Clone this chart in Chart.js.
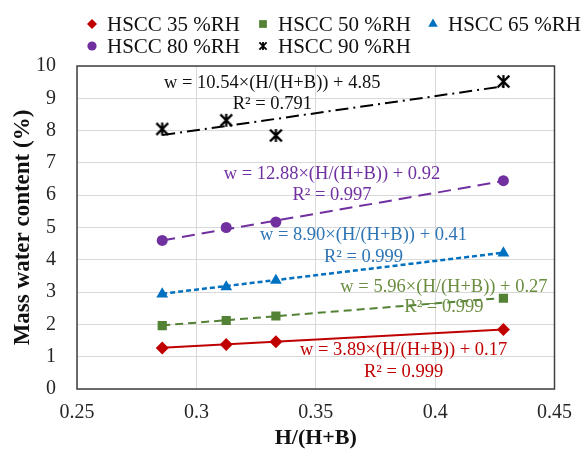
<!DOCTYPE html>
<html>
<head>
<meta charset="utf-8">
<script src="https://cdn.jsdelivr.net/npm/chart.js@4.4.0/dist/chart.umd.min.js"></script>
<style>
  html, body { margin: 0; padding: 0; background: #fff; }
</style>
</head>
<body>
<canvas id="chart" width="584" height="452"></canvas>
<script>
// measured points, H/(H+B) vs mass water content
const ratio = [0.2857, 0.3125, 0.3333, 0.4286];
const rh35 = [1.27, 1.38, 1.46, 1.84];
const rh50 = [1.96, 2.12, 2.26, 2.81];
const rh65 = [2.94, 3.16, 3.36, 4.21];
const rh80 = [4.60, 5.00, 5.17, 6.45];
const rh90 = [8.05, 8.32, 7.85, 9.52];

// linear trend lines, end points
const trendX = [0.2857, 0.4286];
const trend35 = [1.28, 1.84];
const trend50 = [1.97, 2.82];
const trend65 = [2.95, 4.22];
const trend80 = [4.60, 6.44];
const trend90 = [7.86, 9.37];

const seriesNames = ['HSCC 35 %RH', 'HSCC 50 %RH', 'HSCC 65 %RH', 'HSCC 80 %RH', 'HSCC 90 %RH'];
const equations = [
    'w = 3.89×(H/(H+B)) + 0.17',
    'w = 5.96×(H/(H+B)) + 0.27',
    'w = 8.90×(H/(H+B)) + 0.41',
    'w = 12.88×(H/(H+B)) + 0.92',
    'w = 10.54×(H/(H+B)) + 4.85'
];
const r2Labels = ['R² = 0.999', 'R² = 0.999', 'R² = 0.999', 'R² = 0.997', 'R² = 0.791'];

const xTicks = [0.25, 0.3, 0.35, 0.4, 0.45];

const SERIF = '"Liberation Serif", "Times New Roman", serif';
const colors = ['#C00000', '#548235', '#0070C0', '#7030A0', '#000000'];
const labelColors = ['#C00000', '#6a8d3f', '#2E75B6', '#7030A0', '#111111'];

function makeStar(size, lw) {
    let c = document.createElement('canvas');
    c.width = size;
    c.height = size;
    let g = c.getContext('2d');
    g.strokeStyle = '#000';
    g.lineWidth = lw;
    let m = lw / 2 + 0.5;
    let e = size - m;
    g.beginPath();
    g.moveTo(m, m); g.lineTo(e, e);
    g.moveTo(e, m); g.lineTo(m, e);
    g.moveTo(size / 2, m - 0.5); g.lineTo(size / 2, e + 0.5);
    g.stroke();
    return c;
}
const starBig = makeStar(15, 2.2);
const starSmall = makeStar(10, 1.8);

function pts(ys) {
    return ys.map((y, i) => ({ x: ratio[i], y: y }));
}
function line(ys) {
    return ys.map((y, i) => ({ x: trendX[i], y: y }));
}

const markerSets = [
    { data: pts(rh35), pointStyle: 'rectRot', pointRadius: 6.5 },
    { data: pts(rh50), pointStyle: 'rect', pointRadius: 6.5 },
    { data: pts(rh65), pointStyle: 'triangle', pointRadius: 6.8 },
    { data: pts(rh80), pointStyle: 'circle', pointRadius: 5.5 },
    { data: pts(rh90), pointStyle: starBig, pointRadius: 7 }
].map((d, i) => Object.assign(d, {
    label: seriesNames[i],
    showLine: false,
    backgroundColor: colors[i],
    borderColor: colors[i],
    borderWidth: 0,
    order: 0
}));

const trendSets = [
    { data: line(trend35), borderDash: [], borderWidth: 2 },
    { data: line(trend50), borderDash: [8, 5], borderWidth: 2 },
    { data: line(trend65), borderDash: [5, 3], borderWidth: 2.5 },
    { data: line(trend80), borderDash: [13, 7], borderWidth: 2 },
    { data: line(trend90), borderDash: [13, 5, 2, 5], borderWidth: 2 }
].map((d, i) => Object.assign(d, {
    label: 'trend ' + seriesNames[i],
    showLine: true,
    pointRadius: 0,
    borderColor: colors[i],
    order: 1
}));

// equation + R² boxes, centre in data units
const annotationPos = [
    { x: 0.3868, y: 1.19, y2: 0.52 },
    { x: 0.4037, y: 3.14, y2: 2.52 },
    { x: 0.3700, y: 4.76, y2: 4.09 },
    { x: 0.3568, y: 6.65, y2: 6.00 },
    { x: 0.3318, y: 9.46, y2: 8.81 }
];

const framePlugin = {
    id: 'frame',
    beforeDatasetsDraw(chart) {
        let a = chart.chartArea;
        let ctx = chart.ctx;
        ctx.save();
        ctx.strokeStyle = '#404040';
        ctx.lineWidth = 1.5;
        ctx.strokeRect(a.left, a.top, a.right - a.left, a.bottom - a.top);
        ctx.restore();
    }
};

const equationPlugin = {
    id: 'equations',
    afterDatasetsDraw(chart) {
        let ctx = chart.ctx;
        let sx = chart.scales.x, sy = chart.scales.y;
        ctx.save();
        ctx.font = '18.5px ' + SERIF;
        ctx.textAlign = 'center';
        ctx.textBaseline = 'middle';
        annotationPos.forEach((p, i) => {
            ctx.fillStyle = labelColors[i];
            let px = sx.getPixelForValue(p.x);
            ctx.fillText(equations[i], px, sy.getPixelForValue(p.y));
            ctx.fillText(r2Labels[i], px, sy.getPixelForValue(p.y2));
        });
        ctx.restore();
    }
};

const legendPlugin = {
    id: 'sideLegend',
    afterDraw(chart) {
        let ctx = chart.ctx;
        let slots = [[92, 24], [263, 24], [433, 24], [92, 46], [263, 46]];
        let radii = [5, 5.5, 5.5, 4.6, 5];
        ctx.save();
        ctx.font = '21px ' + SERIF;
        ctx.textBaseline = 'middle';
        ctx.textAlign = 'left';
        markerSets.forEach((ds, i) => {
            let [x, y] = slots[i];
            ctx.fillStyle = colors[i];
            ctx.strokeStyle = colors[i];
            let style = ds.pointStyle === starBig ? starSmall : ds.pointStyle;
            Chart.helpers.drawPoint(ctx, { pointStyle: style, radius: radii[i], rotation: 0, borderWidth: 0 }, x, y);
            ctx.fillStyle = '#111';
            ctx.fillText(seriesNames[i], x + 15, y + 1);
        });
        ctx.restore();
    }
};

new Chart(document.getElementById('chart'), {
    type: 'scatter',
    data: { datasets: trendSets.concat(markerSets) },
    options: {
        responsive: false,
        animation: false,
        layout: { padding: { top: 66, right: 20, left: 0, bottom: 0 } },
        plugins: {
            legend: { display: false },
            tooltip: { enabled: false }
        },
        scales: {
            x: {
                type: 'linear',
                min: 0.25,
                max: 0.45,
                afterBuildTicks: (s) => { s.ticks = xTicks.map(v => ({ value: v })); },
                afterFit: (s) => { s.height = 63; },
                ticks: {
                    padding: 12,
                    color: '#262626',
                    font: { family: SERIF, size: 20 },
                    callback: (v) => String(+v.toFixed(2))
                },
                grid: { color: '#d9d9d9', drawTicks: false },
                border: { display: false },
                title: {
                    display: true,
                    text: 'H/(H+B)',
                    color: '#111',
                    font: { family: SERIF, size: 22, weight: 'bold' },
                    padding: { top: 0, bottom: 0 }
                }
            },
            y: {
                min: 0,
                max: 10,
                afterFit: (s) => { s.width = 77; },
                ticks: {
                    stepSize: 1,
                    padding: 21,
                    color: '#262626',
                    font: { family: SERIF, size: 20 }
                },
                grid: { color: '#d9d9d9', drawTicks: false },
                border: { display: false },
                title: {
                    display: true,
                    text: 'Mass water content (%)',
                    color: '#111',
                    font: { family: SERIF, size: 23, weight: 'bold' },
                    padding: { top: 9, bottom: 0 }
                }
            }
        }
    },
    plugins: [framePlugin, equationPlugin, legendPlugin]
});
</script>
</body>
</html>
